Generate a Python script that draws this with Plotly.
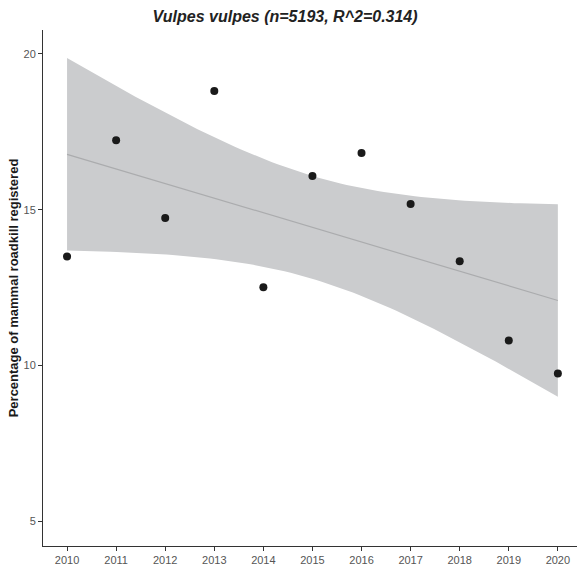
import numpy as np
import plotly.graph_objects as go

# Yearly share of mammal roadkill records for Vulpes vulpes
years = [2010, 2011, 2012, 2013, 2014, 2015, 2016, 2017, 2018, 2019, 2020]
pct = [13.50, 17.23, 14.73, 18.81, 12.51, 16.08, 16.82, 15.18, 13.34, 10.80, 9.74]

title_text = "Vulpes vulpes (n=5193, R^2=0.314)"
y_label = "Percentage of mammal roadkill registered"
y_ticks = [5, 10, 15, 20]

# Ordinary least squares fit with a 95% confidence band (like geom_smooth(method="lm"))
x = np.array(years, dtype=float)
y = np.array(pct, dtype=float)
n = len(x)
xm = x.mean()
sxx = ((x - xm) ** 2).sum()
slope = ((x - xm) * (y - y.mean())).sum() / sxx
intercept = y.mean() - slope * xm
resid = y - (intercept + slope * x)
s = np.sqrt((resid ** 2).sum() / (n - 2))
t_crit = 2.2621571627  # t(0.975, df=9)

xs = np.linspace(x.min(), x.max(), 80)
fit = intercept + slope * xs
se = s * np.sqrt(1.0 / n + (xs - xm) ** 2 / sxx)
upper = fit + t_crit * se
lower = fit - t_crit * se

fig = go.Figure()
fig.add_trace(go.Scatter(
    x=np.concatenate([xs, xs[::-1]]),
    y=np.concatenate([upper, lower[::-1]]),
    fill="toself", fillcolor="#CBCCCE",
    line=dict(width=0), mode="lines", hoverinfo="skip", showlegend=False,
))
fig.add_trace(go.Scatter(
    x=xs, y=fit, mode="lines",
    line=dict(color="#ABACAE", width=1.2), showlegend=False,
))
fig.add_trace(go.Scatter(
    x=years, y=pct, mode="markers",
    marker=dict(color="#1A1A1A", size=8), showlegend=False,
))

fig.update_layout(
    width=577, height=565,
    margin=dict(l=43, r=0, t=30, b=19),
    plot_bgcolor="white", paper_bgcolor="white",
    font=dict(family="Liberation Sans, Arial, sans-serif", color="#555555"),
    title=dict(
        text="<b><i>" + title_text + "</i></b>",
        x=285 / 577, xanchor="center", y=1 - 16 / 565, yanchor="middle",
        font=dict(size=16, color="#222222"),
    ),
    xaxis=dict(
        range=[2009.51, 2020.39], tickmode="array", tickvals=years,
        ticktext=[str(v) for v in years],
        showgrid=False, zeroline=False, showline=True,
        linecolor="#333333", linewidth=1,
        ticks="outside", ticklen=4, tickcolor="#333333", tickwidth=1,
        tickfont=dict(size=11, color="#555555"),
    ),
    yaxis=dict(
        range=[4.2, 20.77], tickmode="array", tickvals=y_ticks,
        ticktext=[str(v) for v in y_ticks],
        showgrid=False, zeroline=False, showline=True,
        linecolor="#333333", linewidth=1,
        ticks="outside", ticklen=4, tickcolor="#333333", tickwidth=1,
        tickfont=dict(size=11, color="#555555"),
        title=dict(text="<b>" + y_label + "</b>", standoff=1,
                   font=dict(size=13, color="#1A1A1A")),
    ),
)

fig.write_html("out.html")
